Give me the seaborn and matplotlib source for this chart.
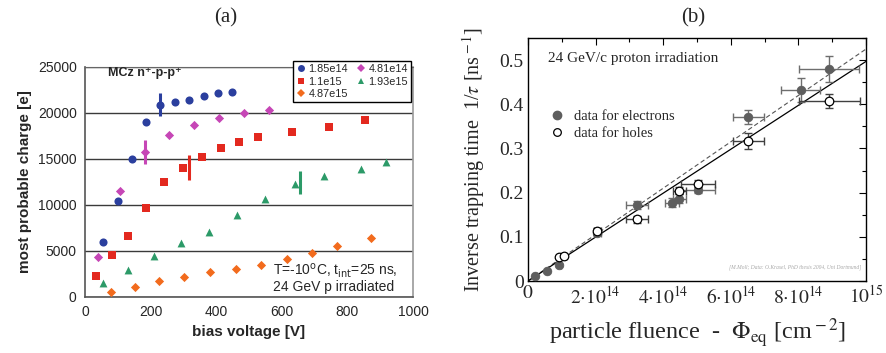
import numpy as np
import pandas as pd
import matplotlib
matplotlib.use("Agg")
import matplotlib.pyplot as plt
from matplotlib.lines import Line2D
from matplotlib.ticker import MultipleLocator, FixedLocator
import seaborn as sns

# ---------------- panel (a): most probable charge vs bias voltage ----------------
v_185e14 = [56, 100, 142, 186, 230, 273, 318, 362, 405, 449]
q_185e14 = [5980, 10400, 15040, 18990, 20910, 21200, 21460, 21820, 22180, 22290]

v_481e14 = [41, 107, 183, 257, 333, 409, 485, 561]
q_481e14 = [4350, 11490, 15730, 17580, 18740, 19500, 20000, 20290]

v_11e15 = [34, 81, 132, 185, 241, 298, 356, 414, 470, 527, 632, 743, 854]
q_11e15 = [2330, 4530, 6600, 9680, 12500, 14060, 15220, 16240, 16820, 17360, 17980, 18450, 19210]

v_193e15 = [56, 132, 210, 293, 377, 462, 550, 640, 729, 842, 919]
q_193e15 = [1520, 2900, 4420, 5870, 7030, 8950, 10620, 12330, 13120, 13960, 14680]

v_487e15 = [78, 152, 226, 303, 381, 459, 537, 615, 692, 769, 871]
q_487e15 = [590, 1090, 1740, 2140, 2690, 3090, 3520, 4170, 4830, 5550, 6420]

series_labels = ["1.85e14", "4.81e14", "1.1e15", "1.93e15", "4.87e15"]
series_v = [v_185e14, v_481e14, v_11e15, v_193e15, v_487e15]
series_q = [q_185e14, q_481e14, q_11e15, q_193e15, q_487e15]

# representative uncertainty bars, one per fluence
err_labels = ["1.85e14", "4.81e14", "1.1e15", "1.93e15"]
err_v = [230, 183, 317, 656]
err_q = [20900, 15730, 14080, 12440]
err_dq = [1280, 1300, 1320, 1270]

# ---------------- panel (b): inverse trapping time vs fluence ----------------
el_phi = [0.21e14, 0.55e14, 0.93e14, 2.05e14, 3.23e14, 4.26e14, 4.48e14, 5.02e14, 6.52e14, 8.07e14, 8.91e14]
el_tau = [0.012, 0.022, 0.036, 0.109, 0.172, 0.177, 0.186, 0.207, 0.372, 0.432, 0.480]
el_dphi = [0.0, 0.0, 0.05e14, 0.10e14, 0.32e14, 0.20e14, 0.20e14, 0.50e14, 0.46e14, 0.58e14, 0.89e14]
el_dtau = [0.0, 0.0, 0.003, 0.005, 0.008, 0.010, 0.010, 0.008, 0.016, 0.027, 0.029]

ho_phi = [0.93e14, 1.06e14, 2.05e14, 3.23e14, 4.48e14, 5.02e14, 6.52e14, 8.91e14]
ho_tau = [0.054, 0.057, 0.114, 0.140, 0.2045, 0.220, 0.3175, 0.407]
ho_dphi = [0.05e14, 0.05e14, 0.10e14, 0.32e14, 0.20e14, 0.50e14, 0.46e14, 0.90e14]
ho_dtau = [0.003, 0.003, 0.005, 0.008, 0.008, 0.008, 0.018, 0.016]

# linear fits 1/tau = beta * Phi  [ns^-1 cm^2]
beta_electrons = 5.25e-16
beta_holes = 4.97e-16

x_tick_vals = [0, 2e14, 4e14, 6e14, 8e14, 1e15]
x_tick_text = [r"$0$", r"$2{\cdot}10^{14}$", r"$4{\cdot}10^{14}$",
               r"$6{\cdot}10^{14}$", r"$8{\cdot}10^{14}$", r"$10^{15}$"]

# ---------------------------------------------------------------------------
sns.set_style("white")
plt.rcParams["font.family"] = ["Liberation Sans", "DejaVu Sans"]

fig = plt.figure(figsize=(8.87, 3.53), dpi=100)
ax1 = fig.add_axes([85 / 887, 1 - 297 / 353, 328 / 887, 230 / 353])
ax2 = fig.add_axes([528 / 887, 1 - 281 / 353, 338 / 887, 243 / 353])

colors = {"1.85e14": "#2b3f9e", "4.81e14": "#c646b6", "1.1e15": "#e3291f",
          "1.93e15": "#2c9a68", "4.87e15": "#f26b1d"}
markers = {"1.85e14": "o", "4.81e14": "D", "1.1e15": "s", "1.93e15": "^", "4.87e15": "D"}
sizes = {"1.85e14": 34, "4.81e14": 22, "1.1e15": 28, "1.93e15": 32, "4.87e15": 22}

rows = []
for lab, vv, qq in zip(series_labels, series_v, series_q):
    for v, q in zip(vv, qq):
        rows.append({"fluence": lab, "bias": v, "charge": q})
df_a = pd.DataFrame(rows)

ax1.set_axisbelow(True)
for lab in series_labels:
    sub = df_a[df_a["fluence"] == lab]
    sns.scatterplot(data=sub, x="bias", y="charge", color=colors[lab], marker=markers[lab],
                    s=sizes[lab], linewidth=0, ax=ax1, legend=False, zorder=3)

for lab, v, q, dq in zip(err_labels, err_v, err_q, err_dq):
    ax1.errorbar([v], [q], yerr=[dq], fmt="none", ecolor=colors[lab], elinewidth=2.2,
                 capsize=0, zorder=4)

ax1.set_xlim(0, 1000)
ax1.set_ylim(0, 25000)
ax1.xaxis.set_major_locator(MultipleLocator(200))
ax1.yaxis.set_major_locator(MultipleLocator(5000))
ax1.grid(axis="y", color="#3a3a3a", linewidth=1.0)
ax1.grid(axis="x", visible=False)
for side in ["left", "bottom"]:
    ax1.spines[side].set_color("#555555")
    ax1.spines[side].set_linewidth(1.2)
ax1.spines["right"].set_color("#9a9a9a")
ax1.spines["right"].set_linewidth(1.2)
ax1.spines["top"].set_color("#666666")
ax1.tick_params(axis="both", which="major", direction="out", length=4, width=1,
                color="#555555", labelsize=10, pad=2)
ax1.set_xlabel("bias voltage [V]", fontsize=11, fontweight="bold", labelpad=4)
ax1.set_ylabel("most probable charge [e]", fontsize=11, fontweight="bold", labelpad=4)

handles = {lab: Line2D([], [], linestyle="none", marker=markers[lab], color=colors[lab],
                       markersize=5 if markers[lab] != "D" else 4.5, markeredgewidth=0)
           for lab in series_labels}
order = ["1.85e14", "1.1e15", "4.87e15", "4.81e14", "1.93e15"]
leg = ax1.legend([handles[k] for k in order], order, ncol=2, loc="upper right",
                 bbox_to_anchor=(0.995, 1.028), fontsize=7.8, frameon=True, fancybox=False,
                 edgecolor="black", framealpha=1, borderaxespad=0, handlelength=0.8,
                 handletextpad=0.3, columnspacing=0.8, labelspacing=0.25, borderpad=0.3)
leg.get_frame().set_linewidth(1.0)
leg.set_zorder(10)

ax1.text(0.07, 0.972, "MCz n\u207a-p-p\u207a", transform=ax1.transAxes, fontsize=9,
         fontweight="bold", va="center", ha="left",
         family=["Liberation Sans", "DejaVu Sans"])
ax1.text(0.573, 0.015, "T=-10$^{\\rm o}$C, t$_{\\rm int}$=25 ns,\n24 GeV p irradiated",
         transform=ax1.transAxes, fontsize=10, va="bottom", ha="left",
         math_fontfamily="dejavusans", linespacing=1.0)

# ---------------- panel (b) ----------------
serif = ["Liberation Serif", "DejaVu Serif"]
df_e = pd.DataFrame({"phi": el_phi, "tau": el_tau})
df_h = pd.DataFrame({"phi": ho_phi, "tau": ho_tau})

phi_line = np.array([0.0, 1e15])
df_fit = pd.DataFrame({"phi": np.concatenate([phi_line, phi_line]),
                       "tau": np.concatenate([beta_electrons * phi_line, beta_holes * phi_line]),
                       "fit": ["electrons"] * 2 + ["holes"] * 2})
sns.lineplot(data=df_fit[df_fit["fit"] == "electrons"], x="phi", y="tau", color="#555555",
             linestyle=(0, (4, 2.5)), linewidth=0.8, ax=ax2, zorder=2)
sns.lineplot(data=df_fit[df_fit["fit"] == "holes"], x="phi", y="tau", color="black",
             linewidth=0.9, ax=ax2, zorder=2)

ax2.errorbar(el_phi, el_tau, xerr=el_dphi, yerr=el_dtau, fmt="none", ecolor="#6e6e6e",
             elinewidth=1.0, capsize=3, capthick=1.0, zorder=3)
ax2.errorbar(ho_phi, ho_tau, xerr=ho_dphi, yerr=ho_dtau, fmt="none", ecolor="#404040",
             elinewidth=1.0, capsize=3, capthick=1.0, zorder=3)
sns.scatterplot(data=df_e, x="phi", y="tau", color="#5e5e5e", edgecolor="#5e5e5e",
                s=38, linewidth=0.6, ax=ax2, zorder=4, legend=False)
sns.scatterplot(data=df_h, x="phi", y="tau", color="white", edgecolor="black",
                s=38, linewidth=0.9, ax=ax2, zorder=5, legend=False)

ax2.set_xlim(0, 1e15)
ax2.set_ylim(0, 0.55)
ax2.xaxis.set_major_locator(FixedLocator(x_tick_vals))
ax2.set_xticklabels(x_tick_text)
ax2.xaxis.set_minor_locator(MultipleLocator(1e14))
ax2.yaxis.set_major_locator(MultipleLocator(0.1))
ax2.yaxis.set_minor_locator(MultipleLocator(0.05))
ax2.set_yticks([0, 0.1, 0.2, 0.3, 0.4, 0.5])
ax2.set_yticklabels(["0", "0.1", "0.2", "0.3", "0.4", "0.5"])
ax2.tick_params(axis="both", which="both", direction="in", top=True, right=True,
                color="black", width=0.8)
ax2.tick_params(axis="both", which="major", length=5, labelsize=14, pad=3)
ax2.tick_params(axis="both", which="minor", length=3)
for lbl in ax2.get_xticklabels():
    lbl.set_math_fontfamily("stix")
for lbl in ax2.get_yticklabels():
    lbl.set_family(serif)
for sp in ax2.spines.values():
    sp.set_color("black")
    sp.set_linewidth(1.0)

ax2.set_xlabel(r"particle fluence  -  $\Phi_{\rm eq}$ [cm$^{\rm -2}$]", fontsize=17.5,
               family=serif, math_fontfamily="stix", labelpad=7)
ax2.set_ylabel(r"Inverse trapping time  1/$\tau$ [ns$^{\rm -1}$]", fontsize=14.5,
               family=serif, math_fontfamily="stix", labelpad=9)

ax2.text(0.06, 0.915, "24 GeV/c proton irradiation", transform=ax2.transAxes,
         fontsize=11, family=serif, va="center", ha="left")
leg_b = [Line2D([], [], linestyle="none", marker="o", markersize=6, color="#5e5e5e",
                markeredgecolor="#5e5e5e"),
         Line2D([], [], linestyle="none", marker="o", markersize=5.5, markerfacecolor="white",
                markeredgecolor="black", markeredgewidth=0.9)]
ax2.legend(leg_b, ["data for electrons", "data for holes"], loc="upper left",
           bbox_to_anchor=(0.02, 0.76), frameon=False, prop={"family": serif, "size": 10.5},
           handlelength=1.2, handletextpad=0.6, labelspacing=0.3)
ax2.text(0.985, 0.055, "[M.Moll; Data: O.Krasel, PhD thesis 2004, Uni Dortmund]",
         transform=ax2.transAxes, fontsize=4, style="italic", color="#a8a8a8",
         family=serif, ha="right", va="center")

fig.text(226 / 887, 1 - 18 / 353, "(a)", fontsize=15, family=serif, ha="center", va="center")
fig.text(693 / 887, 1 - 18 / 353, "(b)", fontsize=15, family=serif, ha="center", va="center")

fig.savefig("out.png", dpi=100)
